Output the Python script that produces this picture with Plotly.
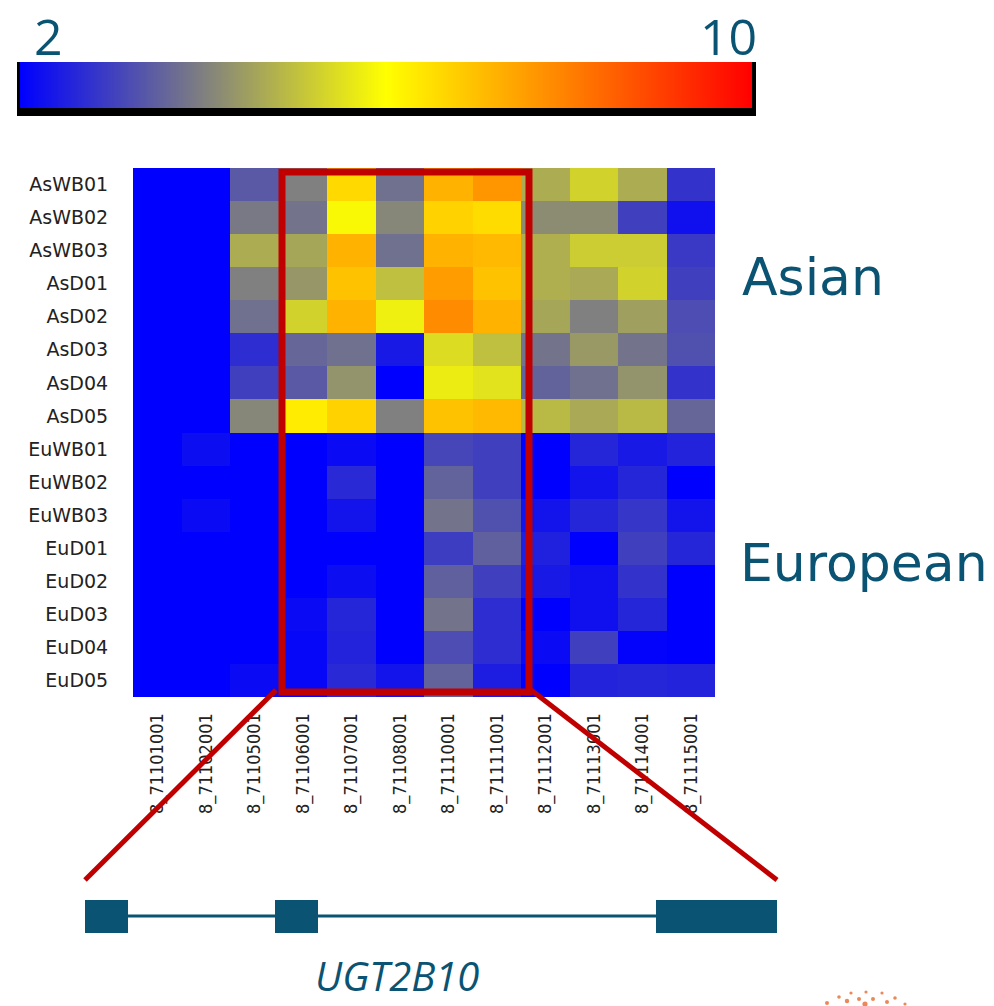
import plotly.graph_objects as go

# Marker positions along the UGT2B10 region (columns) and samples (rows)
markers = ["8_71101001", "8_71102001", "8_71105001", "8_71106001", "8_71107001", "8_71108001",
           "8_71110001", "8_71111001", "8_71112001", "8_71113001", "8_71114001", "8_71115001"]
samples = ["AsWB01", "AsWB02", "AsWB03", "AsD01", "AsD02", "AsD03", "AsD04", "AsD05",
           "EuWB01", "EuWB02", "EuWB03", "EuD01", "EuD02", "EuD03", "EuD04", "EuD05"]

# Signal per sample (row) and marker (column)
asian_values = [
    [2, 2, 3.4, 4.0, 6.6, 3.75, 7.2, 7.65, 4.7, 5.3, 4.7, 2.8],
    [2, 2, 3.9, 3.8, 5.9, 4.1, 6.7, 6.55, 4.2, 4.2, 3.0, 2.25],
    [2, 2, 4.7, 4.6, 7.2, 3.75, 7.2, 7.1, 4.75, 5.2, 5.2, 2.9],
    [2, 2, 4.0, 4.35, 6.95, 5.0, 7.55, 6.95, 4.75, 4.65, 5.3, 3.0],
    [2, 2, 3.75, 5.3, 7.2, 5.75, 7.8, 7.2, 4.6, 4.0, 4.5, 3.2],
    [2, 2, 2.7, 3.6, 3.75, 2.4, 5.45, 5.0, 3.8, 4.4, 3.8, 3.25],
    [2, 2, 3.0, 3.4, 4.3, 2.0, 5.7, 5.55, 3.55, 3.75, 4.3, 2.8],
    [2, 2, 4.1, 6.3, 6.7, 4.0, 6.95, 7.1, 4.9, 4.65, 4.9, 3.6],
]
european_values = [
    [2, 2.2, 2, 2, 2.15, 2, 3.1, 3.0, 2, 2.6, 2.4, 2.55],
    [2, 2, 2, 2, 2.65, 2, 3.55, 3.0, 2, 2.3, 2.6, 2],
    [2, 2.15, 2, 2, 2.3, 2, 3.8, 3.25, 2.3, 2.6, 2.85, 2.3],
    [2, 2, 2, 2, 2, 2, 2.95, 3.5, 2.5, 2, 3.0, 2.6],
    [2, 2, 2, 2, 2.2, 2, 3.5, 3.0, 2.4, 2.25, 2.8, 2],
    [2, 2, 2, 2.15, 2.6, 2, 3.8, 2.7, 2, 2.25, 2.6, 2],
    [2, 2, 2, 2.1, 2.55, 2, 3.2, 2.7, 2.15, 3.0, 2.05, 2],
    [2, 2, 2.15, 2.1, 2.65, 2.3, 3.55, 2.45, 2, 2.55, 2.6, 2.55],
]
scale_min, scale_max = 2, 10
gene_name = "UGT2B10"
group_labels = ["Asian", "European"]

W, H = 994, 1006
TEAL = "#0a5373"
RED = "#c00000"


def px(x):
    return x / W


def py(y):
    return 1 - y / H


fig = go.Figure()
fig.add_trace(go.Heatmap(
    z=asian_values + european_values,
    x=markers,
    y=samples,
    zmin=scale_min,
    zmax=scale_max,
    colorscale=[[0, "rgb(0,0,255)"], [0.5, "rgb(255,255,0)"], [1, "rgb(255,0,0)"]],
    colorbar=dict(
        orientation="h",
        lenmode="pixels", len=732,
        thickness=46,
        x=px(386), xanchor="center",
        y=py(62), yanchor="top",
        xpad=0, ypad=0,
        outlinewidth=0,
        showticklabels=False,
        ticks="",
    ),
    hoverongaps=False,
))

shapes = []
# dark backing under the colour bar
shapes.append(dict(type="rect", xref="paper", yref="paper", layer="below",
                   x0=px(17), x1=px(756), y0=py(116), y1=py(62),
                   fillcolor="black", line=dict(width=0)))
# highlighted block of markers
shapes.append(dict(type="rect", xref="paper", yref="paper",
                   x0=px(282), x1=px(529), y0=py(692), y1=py(172),
                   line=dict(color=RED, width=7)))
# zoom lines down to the gene model
shapes.append(dict(type="line", xref="paper", yref="paper",
                   x0=px(276), y0=py(690), x1=px(85), y1=py(880),
                   line=dict(color=RED, width=5)))
shapes.append(dict(type="line", xref="paper", yref="paper",
                   x0=px(531), y0=py(690), x1=px(777), y1=py(880),
                   line=dict(color=RED, width=5)))
# gene model: intron line and exons
shapes.append(dict(type="line", xref="paper", yref="paper",
                   x0=px(120), y0=py(916), x1=px(660), y1=py(916),
                   line=dict(color=TEAL, width=3)))
for ex0, ex1 in [(85, 128), (275, 318), (656, 777)]:
    shapes.append(dict(type="rect", xref="paper", yref="paper",
                       x0=px(ex0), x1=px(ex1), y0=py(933), y1=py(900),
                       fillcolor=TEAL, line=dict(width=0)))
# partial logo in the corner
logo_dots = [(827, 1003, 2.0), (839, 997, 1.8), (851, 993, 1.6), (866, 992, 1.6), (882, 993, 1.6),
             (895, 998, 1.8), (859, 999, 2.0), (873, 999, 2.0), (887, 1002, 2.0), (847, 1001, 2.2),
             (865, 1004, 2.6), (905, 1004, 1.6)]
for cx, cy, r in logo_dots:
    shapes.append(dict(type="circle", xref="paper", yref="paper",
                       x0=px(cx - r), x1=px(cx + r), y0=py(cy + r), y1=py(cy - r),
                       fillcolor="#e8733c", line=dict(width=0), opacity=0.85))

annotations = [
    dict(text="2", x=px(48), y=py(36), xanchor="center", yanchor="middle",
         font=dict(family="Open Sans", size=50, color=TEAL)),
    dict(text="10", x=px(758), y=py(36), xanchor="right", yanchor="middle",
         font=dict(family="Open Sans", size=50, color=TEAL)),
    dict(text=group_labels[0], x=px(741), y=py(277), xanchor="left", yanchor="middle",
         font=dict(family="DejaVu Sans", size=52, color=TEAL)),
    dict(text=group_labels[1], x=px(739), y=py(563), xanchor="left", yanchor="middle",
         font=dict(family="DejaVu Sans", size=52, color=TEAL)),
    dict(text="<i>" + gene_name + "</i>", x=px(397), y=py(975), xanchor="center", yanchor="middle",
         font=dict(family="Open Sans", size=40, color=TEAL)),
]
for a in annotations:
    a.update(xref="paper", yref="paper", showarrow=False, borderpad=0)

fig.update_layout(
    width=W, height=H,
    margin=dict(l=0, r=0, t=0, b=0),
    paper_bgcolor="white",
    plot_bgcolor="white",
    shapes=shapes,
    annotations=annotations,
    xaxis=dict(
        domain=[px(133), px(715)],
        tickangle=-90,
        ticks="outside", ticklen=8, tickcolor="rgba(0,0,0,0)",
        tickfont=dict(family="DejaVu Sans Condensed, DejaVu Sans", size=18, color="#222222"),
        showgrid=False, zeroline=False, showline=False,
        fixedrange=True,
    ),
    yaxis=dict(
        domain=[py(697), py(168)],
        autorange="reversed",
        ticks="outside", ticklen=20, tickcolor="rgba(0,0,0,0)",
        tickfont=dict(family="DejaVu Sans", size=19, color="#222222"),
        showgrid=False, zeroline=False, showline=False,
        fixedrange=True,
    ),
)

fig.write_html("out.html")
